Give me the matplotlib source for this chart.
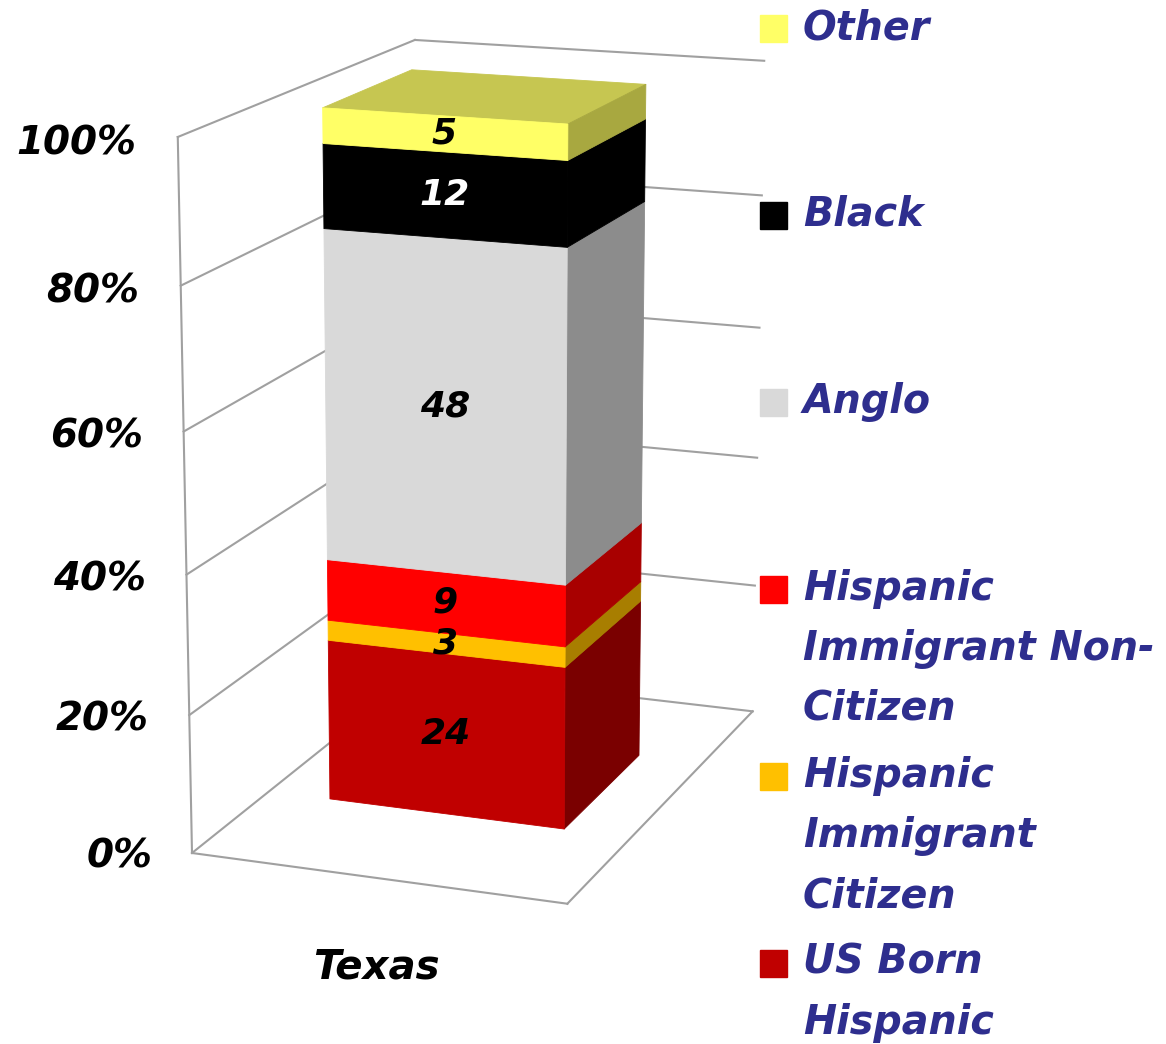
import numpy as np
import matplotlib.pyplot as plt
from matplotlib.patches import Rectangle
from mpl_toolkits.mplot3d import proj3d

# data, bottom to top of the stack
categories = ['US Born\nHispanic', 'Hispanic\nImmigrant\nCitizen',
              'Hispanic\nImmigrant Non-\nCitizen', 'Anglo', 'Black', 'Other']
values = [24, 3, 9, 48, 12, 5]
state = 'Texas'
front_colors = ['#C00000', '#FFC000', '#FF0000', '#D9D9D9', '#000000', '#FFFF66']
side_colors = ['#7A0000', '#A87E00', '#A80000', '#8C8C8C', '#000000', '#A8A840']
top_color = '#C6C651'
value_colors = ['black', 'black', 'black', 'black', 'white', 'black']
ticks = [0, 20, 40, 60, 80, 100]
tick_labels = ['0%', '20%', '40%', '60%', '80%', '100%']

legend_color = '#2E2E8E'
wall_color = '#A0A0A0'
font = dict(family='DejaVu Sans', weight='bold', style='italic')

W, H = 1166, 1044
fig = plt.figure(figsize=(W / 100, H / 100), dpi=100)
ax = fig.add_axes([0.0, 0.1, 0.8, 0.8], projection='3d')
ax.set_axis_off()
ax.computed_zorder = False
ax.set_xlim(0, 1)
ax.set_ylim(0, 1)
ax.set_zlim(0, 100)
ax.set_box_aspect((391, 610, 714))
ax.view_init(elev=14.85, azim=-69.6)
ax.set_proj_type('persp', focal_length=0.766)

# walls and floor outline
for t in ticks:
    ax.plot([0, 0], [0, 1], [t, t], color=wall_color, lw=1.5, zorder=1)
    ax.plot([0, 1], [1, 1], [t, t], color=wall_color, lw=1.5, zorder=1)
ax.plot([0, 0], [0, 0], [0, 100], color=wall_color, lw=1.5, zorder=1)
ax.plot([0, 1], [0, 0], [0, 0], color=wall_color, lw=1.5, zorder=1)
ax.plot([1, 1], [0, 1], [0, 0], color=wall_color, lw=1.5, zorder=1)

# stacked 100% bar
shares = np.array(values, dtype=float) / sum(values) * 100
bottoms = np.concatenate([[0], np.cumsum(shares)[:-1]])
bx, by, bw, bd = 0.172, 0.314, 0.648, 0.39
n = len(values)
for i in range(n):
    top = top_color if i == n - 1 else 'none'
    # face order: -z, +z, -y, +y, -x, +x
    faces = ['none', top, front_colors[i], 'none', 'none', side_colors[i]]
    ax.bar3d(bx, by, bottoms[i], bw, bd, shares[i], color=faces,
             edgecolors=faces, linewidth=0.6, shade=False, zorder=2)

# fit the projected box onto the reference corners
fig.canvas.draw()
M = ax.get_proj()


def to_px(x, y, z):
    xs, ys, _ = proj3d.proj_transform(x, y, z, M)
    return np.array(ax.transData.transform((xs, ys)))


pos = ax.get_position()
S = pos.width * W
LL = np.array([pos.x0 * W, pos.y0 * H])
ma = (to_px(0, 0, 0) - LL) / S
mb = (to_px(0, 0, 100) - LL) / S
target_a = np.array([192, H - 853])
target_b = np.array([179, H - 137])
S2 = (target_b[1] - target_a[1]) / (mb[1] - ma[1])
LL2 = target_a - S2 * ma
ax.set_position([LL2[0] / W, LL2[1] / H, S2 / W, S2 / H])
fig.canvas.draw()

# labels placed at projected points
for i in range(n):
    p = to_px(bx + bw / 2, by, bottoms[i] + shares[i] / 2)
    fig.text(p[0] / W, p[1] / H, str(values[i]), ha='center', va='center',
             fontsize=26, color=value_colors[i], **font)
for t, lab in zip(ticks, tick_labels):
    p = to_px(-0.11, 0, t)
    fig.text(p[0] / W, (p[1] - 9) / H, lab, ha='right', va='center',
             fontsize=28, color='black', **font)
p = to_px(0.5, 0, 0)
fig.text(p[0] / W, (p[1] - 90) / H, state, ha='center', va='center',
         fontsize=29, color='black', **font)

# legend, top to bottom
sq = 27
for k, i in enumerate(range(n - 1, -1, -1)):
    y0 = 28 + k * 187
    fig.add_artist(Rectangle((760 / W, 1 - (y0 + sq / 2) / H), sq / W, sq / H,
                             transform=fig.transFigure, color=front_colors[i]))
    for j, line in enumerate(categories[i].split('\n')):
        fig.text(803 / W, 1 - (y0 + j * 60) / H, line, ha='left', va='center',
                 fontsize=28.5, color=legend_color, **font)

fig.savefig('out.png', dpi=100)
